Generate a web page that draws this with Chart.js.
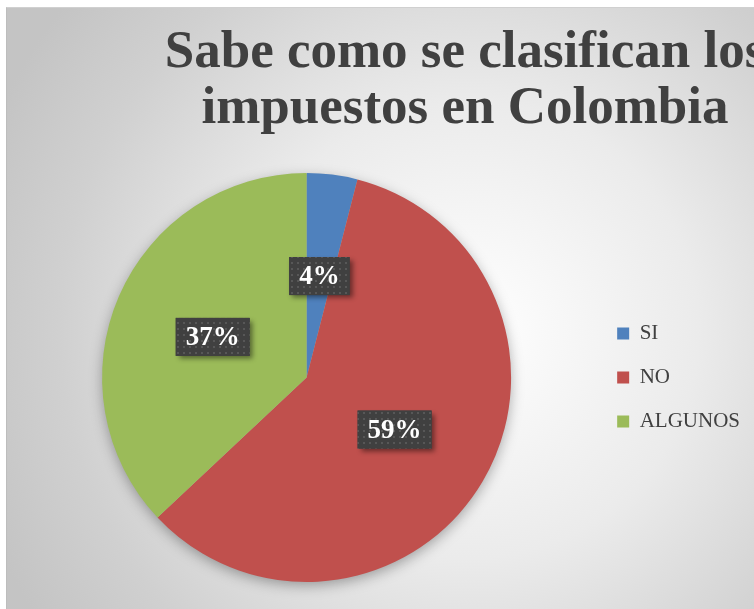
<!DOCTYPE html>
<html>
<head>
<meta charset="utf-8">
<script src="https://cdn.jsdelivr.net/npm/chart.js@4/dist/chart.umd.min.js"></script>
<style>
  html, body { margin: 0; padding: 0; background: #fff; overflow: hidden; }
  #frame {
    position: absolute; left: 6px; top: 7px;
    width: 748px; height: 602px;
    border-left: 1px solid #bdbdbd; border-top: 1px solid #d0d0d0;
    overflow: hidden;
  }
  #result { display: block; }
</style>
</head>
<body>
<div id="frame"><canvas id="result" width="800" height="601"></canvas></div>
<script>
const sliceLabels = ['SI', 'NO', 'ALGUNOS']
const sliceValues = [4, 59, 37]
const sliceColors = ['#4F81BD', '#C0504D', '#9BBB59']
const titleLines = ['Sabe como se clasifican los', 'impuestos en Colombia']

const serif = '"Liberation Serif", "Times New Roman", serif'

// small dotted fill used behind the percentage labels
function dotPattern(ctx) {
  const c = document.createElement('canvas')
  c.width = 6
  c.height = 6
  const p = c.getContext('2d')
  p.fillStyle = '#404040'
  p.fillRect(0, 0, 6, 6)
  p.fillStyle = '#575757'
  p.fillRect(2, 2, 2, 2)
  return ctx.createPattern(c, 'repeat')
}

const backdrop = {
  id: 'backdrop',
  beforeDraw(chart) {
    const { ctx, width, height } = chart
    const g = ctx.createRadialGradient(463, 322, 0, 463, 322, 520)
    g.addColorStop(0, '#ffffff')
    g.addColorStop(0.44, '#ebebeb')
    g.addColorStop(0.79, '#d0d0d0')
    g.addColorStop(1, '#c4c4c4')
    ctx.save()
    ctx.fillStyle = g
    ctx.fillRect(0, 0, width, height)

    // title, centred a bit right of the plot like the original
    ctx.fillStyle = '#404040'
    ctx.font = 'bold 53px ' + serif
    ctx.textAlign = 'center'
    ctx.textBaseline = 'alphabetic'
    titleLines.forEach((line, i) => ctx.fillText(line, 458, 59 + i * 56))
    ctx.restore()
  },
  beforeDatasetsDraw(chart) {
    // soft shadow under the whole pie
    const arc = chart.getDatasetMeta(0).data[0]
    if (!arc) return
    const { ctx } = chart
    ctx.save()
    ctx.shadowColor = 'rgba(0,0,0,0.35)'
    ctx.shadowBlur = 14
    ctx.shadowOffsetY = 4
    ctx.fillStyle = '#b0b0b0'
    ctx.beginPath()
    ctx.arc(arc.x, arc.y, arc.outerRadius - 1, 0, Math.PI * 2)
    ctx.fill()
    ctx.restore()
  }
}

const percentBoxes = {
  id: 'percentBoxes',
  afterDatasetsDraw(chart) {
    const { ctx } = chart
    const total = sliceValues.reduce((a, b) => a + b, 0)
    const pattern = dotPattern(ctx)
    ctx.save()
    ctx.font = 'bold 27px ' + serif
    chart.getDatasetMeta(0).data.forEach((arc, i) => {
      const text = Math.round(sliceValues[i] / total * 100) + '%'
      const { x, y } = arc.getCenterPoint()
      const w = ctx.measureText(text).width + 20
      const h = 38
      ctx.save()
      ctx.shadowColor = 'rgba(0,0,0,0.45)'
      ctx.shadowBlur = 5
      ctx.shadowOffsetX = 3
      ctx.shadowOffsetY = 3
      ctx.fillStyle = '#404040'
      ctx.fillRect(x - w / 2, y - h / 2, w, h)
      ctx.restore()
      ctx.fillStyle = pattern
      ctx.fillRect(x - w / 2, y - h / 2, w, h)
      ctx.fillStyle = '#ffffff'
      ctx.textAlign = 'center'
      ctx.textBaseline = 'middle'
      ctx.fillText(text, x, y + 1)
    })
    ctx.restore()
  }
}

const ctx = document.getElementById('result').getContext('2d')
const chart = new Chart(ctx, {
  type: 'pie',
  data: {
    labels: sliceLabels,
    datasets: [{
      data: sliceValues,
      backgroundColor: sliceColors,
      borderWidth: 0
    }]
  },
  options: {
    responsive: false,
    animation: false,
    layout: {
      padding: { top: 165, bottom: 27, left: 12, right: 57 }
    },
    plugins: {
      title: { display: false },
      tooltip: { enabled: false },
      legend: {
        position: 'right',
        labels: {
          boxWidth: 12,
          boxHeight: 12,
          padding: 23,
          color: '#404040',
          font: { family: serif, size: 21 }
        }
      }
    }
  },
  plugins: [backdrop, percentBoxes]
})
</script>
</body>
</html>
